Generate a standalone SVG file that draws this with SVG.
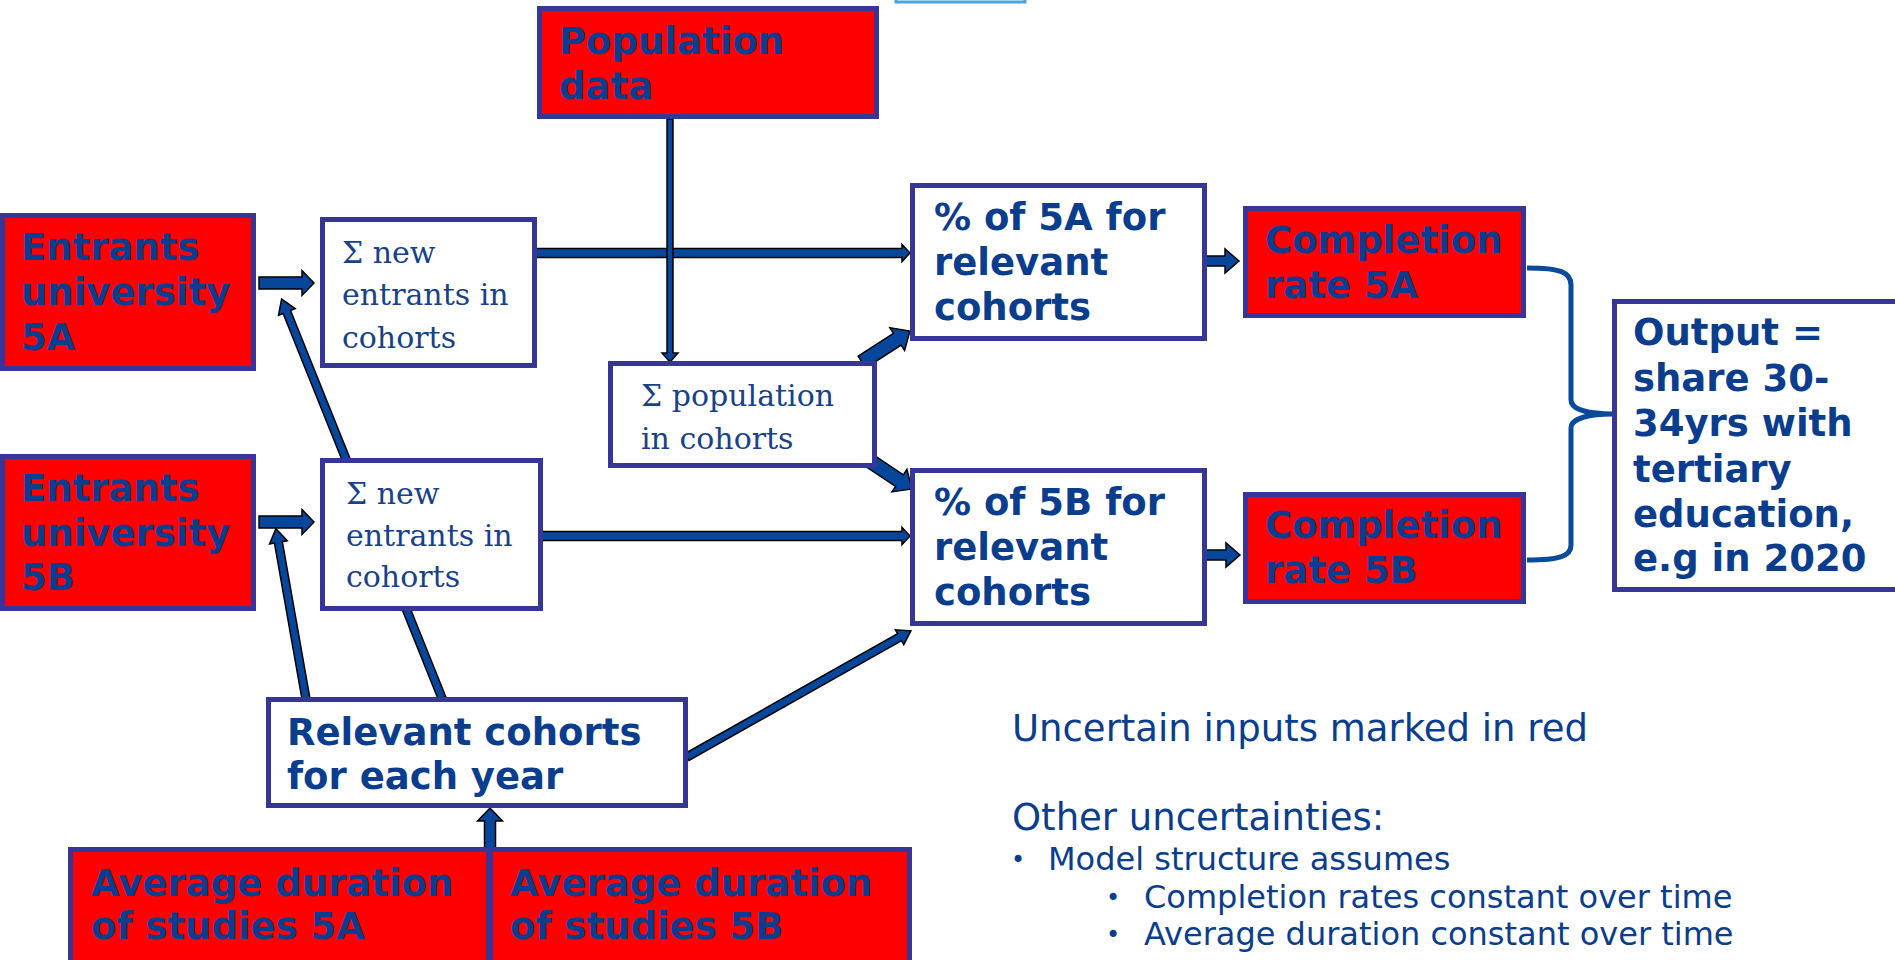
<svg xmlns="http://www.w3.org/2000/svg" width="1895" height="960" viewBox="0 0 1895 960">
<style>
.red{fill:#ff0000;stroke:#363699;stroke-width:5}
.wht{fill:#ffffff;stroke:#363699;stroke-width:5}
.b{font-family:"DejaVu Sans","Liberation Sans",sans-serif;font-weight:bold;font-size:37px;fill:#0b3d8e}
.s{font-family:"DejaVu Serif","Liberation Serif",serif;font-size:30px;fill:#17428a}
.r{font-family:"DejaVu Sans","Liberation Sans",sans-serif;font-size:37px;fill:#0b3d8e}
.r2{font-family:"DejaVu Sans","Liberation Sans",sans-serif;font-size:32px;fill:#0b3d8e}
.bul{font-family:"DejaVu Sans","Liberation Sans",sans-serif;font-size:24px;fill:#0b3d8e}
.arr{fill:#06479b;stroke:#000000;stroke-width:1.5;stroke-linejoin:miter}
.brace{fill:none;stroke:#0a4a9a;stroke-width:5}
</style>
<rect x="0" y="0" width="1895" height="960" fill="#ffffff"/>
<rect x="896" y="-10" width="129" height="12" fill="#ffffff" stroke="#49a6dd" stroke-width="3"/>

<g id="connectors">
  <polygon class="arr" points="259,277 302,277 302,270.5 314,283 302,295.5 302,289 259,289"/>
  <polygon class="arr" points="259,516 302,516 302,509.5 314,522 302,534.5 302,528 259,528"/>
  <polygon class="arr" points="536,248.5 902,248.5 902,244.5 910,253 902,261.5 902,257.5 536,257.5"/>
  <polygon class="arr" points="542,531.5 902,531.5 902,527.5 910,536 902,544.5 902,540.5 542,540.5"/>
  <polygon class="arr" points="667,119 673,119 673,353 678,353 670,362 662,353 667,353"/>
  <polygon class="arr" transform="translate(862,362) rotate(-32.9)" points="0,-7 42,-7 42,-13.5 57,0 42,13.5 42,7 0,7"/>
  <polygon class="arr" transform="translate(867,459) rotate(33.7)" points="0,-7 39,-7 39,-13.5 54,0 39,13.5 39,7 0,7"/>
  <polygon class="arr" transform="translate(442,698) rotate(-111.9)" points="0,-4 416,-4 416,-9 430,0 416,9 416,4 0,4"/>
  <polygon class="arr" transform="translate(306,699) rotate(-100)" points="0,-4 159,-4 159,-9 173,0 159,9 159,4 0,4"/>
  <polygon class="arr" transform="translate(687,757) rotate(-29.4)" points="0,-4 244,-4 244,-8.5 257,0 244,8.5 244,4 0,4"/>
  <polygon class="arr" points="484.5,852 495.5,852 495.5,821 502.5,821 490,808 477.5,821 484.5,821"/>
  <polygon class="arr" points="1205,256 1225,256 1225,249 1239,261 1225,273 1225,266 1205,266"/>
  <polygon class="arr" points="1206,550 1226,550 1226,543 1240,555 1226,567 1226,560 1206,560"/>
  <path class="brace" d="M1527,268 C1560,268 1571,272 1571,285 L1571,400 C1571,410 1590,414 1613,414 C1590,414 1571,418 1571,428 L1571,545 C1571,556 1560,560 1527,560"/>
</g>

<g id="population">
  <rect class="red" x="539.5" y="8.5" width="337" height="108"/>
  <text class="b" x="559" y="54">Population</text>
  <text class="b" x="559" y="99">data</text>
</g>
<g id="entrants5a">
  <rect class="red" x="2.5" y="215.5" width="251" height="153"/>
  <text class="b" x="21" y="260">Entrants</text>
  <text class="b" x="21" y="305">university</text>
  <text class="b" x="21" y="350">5A</text>
</g>
<g id="entrants5b">
  <rect class="red" x="2.5" y="456.5" width="251" height="152"/>
  <text class="b" x="21" y="501">Entrants</text>
  <text class="b" x="21" y="546">university</text>
  <text class="b" x="21" y="590">5B</text>
</g>
<g id="sumnew5a">
  <rect class="wht" x="322.5" y="219.5" width="212" height="146"/>
  <text class="s" x="342" y="263">Σ new</text>
  <text class="s" x="342" y="305">entrants in</text>
  <text class="s" x="342" y="348">cohorts</text>
</g>
<g id="sumnew5b">
  <rect class="wht" x="322.5" y="460.5" width="218" height="148"/>
  <text class="s" x="346" y="504">Σ new</text>
  <text class="s" x="346" y="546">entrants in</text>
  <text class="s" x="346" y="587">cohorts</text>
</g>
<g id="sumpop">
  <rect class="wht" x="610.5" y="363.5" width="264" height="102"/>
  <text class="s" x="641" y="406">Σ population</text>
  <text class="s" x="641" y="449">in cohorts</text>
</g>
<g id="pct5a">
  <rect class="wht" x="912.5" y="185.5" width="292" height="153"/>
  <text class="b" x="934" y="230">% of 5A for</text>
  <text class="b" x="934" y="275">relevant</text>
  <text class="b" x="934" y="320">cohorts</text>
</g>
<g id="pct5b">
  <rect class="wht" x="912.5" y="470.5" width="292" height="153"/>
  <text class="b" x="934" y="515">% of 5B for</text>
  <text class="b" x="934" y="560">relevant</text>
  <text class="b" x="934" y="605">cohorts</text>
</g>
<g id="completion5a">
  <rect class="red" x="1245.5" y="208.5" width="278" height="107"/>
  <text class="b" x="1265" y="253">Completion</text>
  <text class="b" x="1265" y="298">rate 5A</text>
</g>
<g id="completion5b">
  <rect class="red" x="1245.5" y="494.5" width="278" height="107"/>
  <text class="b" x="1265" y="538">Completion</text>
  <text class="b" x="1265" y="583">rate 5B</text>
</g>
<g id="output">
  <rect class="wht" x="1614.5" y="301.5" width="300" height="288"/>
  <text class="b" x="1633" y="345">Output =</text>
  <text class="b" x="1633" y="391">share 30-</text>
  <text class="b" x="1633" y="436">34yrs with</text>
  <text class="b" x="1633" y="482">tertiary</text>
  <text class="b" x="1633" y="527">education,</text>
  <text class="b" x="1633" y="571">e.g in 2020</text>
</g>
<g id="relevant">
  <rect class="wht" x="268.5" y="699.5" width="417" height="106"/>
  <text class="b" x="287" y="745">Relevant cohorts</text>
  <text class="b" x="287" y="789">for each year</text>
</g>
<g id="avg5a">
  <rect class="red" x="70.5" y="849.5" width="418" height="130"/>
  <text class="b" x="91" y="896">Average duration</text>
  <text class="b" x="91" y="939">of studies 5A</text>
</g>
<g id="avg5b">
  <rect class="red" x="490.5" y="849.5" width="419" height="130"/>
  <text class="b" x="510" y="896">Average duration</text>
  <text class="b" x="510" y="939">of studies 5B</text>
</g>

<g id="notes">
  <text class="r" x="1012" y="741">Uncertain inputs marked in red</text>
  <text class="r" x="1012" y="830">Other uncertainties:</text>
  <text class="bul" x="1011" y="868">•</text>
  <text class="r2" x="1048" y="870">Model structure assumes</text>
  <text class="bul" x="1106" y="906">•</text>
  <text class="r2" x="1144" y="908">Completion rates constant over time</text>
  <text class="bul" x="1106" y="943">•</text>
  <text class="r2" x="1144" y="945">Average duration constant over time</text>
</g>
</svg>
